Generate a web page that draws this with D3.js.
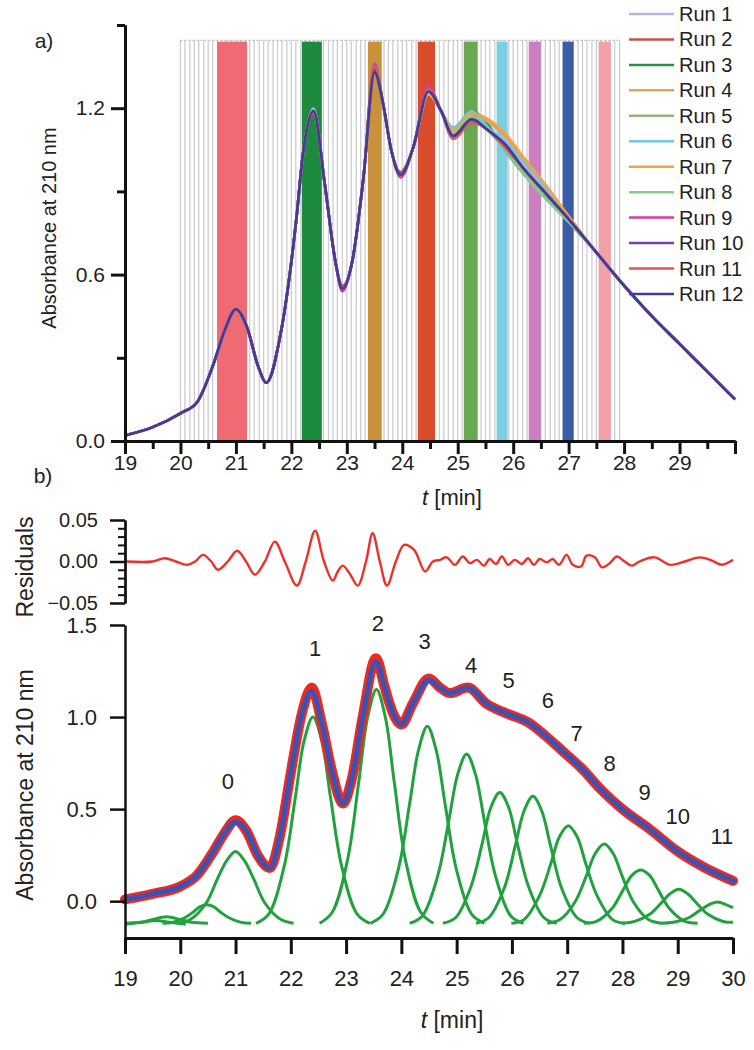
<!DOCTYPE html>
<html>
<head>
<meta charset="utf-8">
<script src="https://cdn.jsdelivr.net/npm/d3@7"></script>
<style>
body { margin: 0; background: #fff; }
svg { display: block; font-family: "Liberation Sans", Arial, Helvetica, sans-serif; }
</style>
</head>
<body>
<svg id="chart" width="754" height="1050"></svg>
<script>
// ---- panel a: 12 runs ----
var runNames = ["Run 1", "Run 2", "Run 3", "Run 4", "Run 5", "Run 6", "Run 7", "Run 8", "Run 9", "Run 10", "Run 11", "Run 12"];
var runColors = ["#b9b5e2", "#c2524e", "#2f8c40", "#d6aa5c", "#93b37d", "#6fc6e8", "#f5a243", "#84cf84", "#d23fa2", "#7141b2", "#e85252", "#3d3d9e"];
var runT = [19, 19.5, 20, 20.3, 20.6, 20.8, 21, 21.2, 21.4, 21.55, 21.8, 22.1, 22.2, 22.4, 22.6, 22.8, 22.92, 23.1, 23.3, 23.5, 23.65, 23.8, 23.97, 24.2, 24.47, 24.7, 24.92, 25.25, 25.55, 25.85, 26.2, 26.6, 27, 27.5, 28, 28.5, 29, 29.5, 30];
var run1  = [.02,.05,.10,.14,.28,.40,.475,.41,.27,.21,.38,.82,1.02,1.19,.93,.64,.55,.65,.95,1.35,1.22,1.05,.96,1.06,1.27,1.19,1.12,1.18,1.16,1.09,1.00,.90,.80,.68,.56,.45,.35,.25,.15];
var run2  = [.02,.05,.10,.14,.28,.40,.475,.41,.27,.21,.38,.82,1.02,1.18,.93,.64,.56,.65,.95,1.33,1.22,1.05,.97,1.06,1.26,1.19,1.10,1.16,1.12,1.07,.98,.89,.80,.68,.56,.45,.35,.25,.15];
var run3  = [.02,.05,.10,.14,.28,.40,.475,.41,.27,.21,.38,.82,1.02,1.20,.93,.64,.54,.65,.95,1.36,1.22,1.05,.96,1.06,1.25,1.19,1.12,1.19,1.14,1.05,.96,.88,.79,.68,.56,.45,.35,.25,.15];
var run4  = [.02,.05,.10,.14,.28,.40,.475,.41,.27,.21,.38,.82,1.02,1.19,.93,.64,.55,.65,.95,1.34,1.22,1.05,.96,1.06,1.26,1.19,1.13,1.18,1.15,1.10,1.01,.91,.81,.68,.56,.45,.35,.25,.15];
var run5  = [.02,.05,.10,.14,.28,.40,.475,.41,.27,.21,.38,.82,1.02,1.19,.93,.64,.55,.65,.95,1.35,1.22,1.05,.96,1.06,1.27,1.19,1.11,1.17,1.13,1.06,.97,.88,.80,.68,.56,.45,.35,.25,.15];
var run6  = [.02,.05,.10,.14,.28,.40,.475,.41,.27,.21,.38,.82,1.02,1.20,.93,.64,.55,.65,.95,1.36,1.22,1.05,.96,1.06,1.26,1.19,1.13,1.19,1.13,1.08,1.00,.91,.80,.68,.56,.45,.35,.25,.15];
var run7  = [.02,.05,.10,.14,.28,.40,.475,.41,.27,.21,.38,.82,1.02,1.19,.93,.64,.55,.65,.95,1.34,1.22,1.05,.96,1.06,1.25,1.19,1.12,1.18,1.16,1.11,1.02,.92,.81,.68,.56,.45,.35,.25,.15];
var run8  = [.02,.05,.10,.14,.28,.40,.475,.41,.27,.21,.38,.82,1.02,1.19,.93,.64,.55,.65,.95,1.35,1.22,1.05,.96,1.06,1.26,1.19,1.11,1.17,1.12,1.05,.96,.87,.79,.68,.56,.45,.35,.25,.15];
var run9  = [.02,.05,.10,.14,.28,.40,.475,.41,.27,.21,.38,.82,1.02,1.19,.93,.64,.54,.65,.95,1.36,1.22,1.05,.95,1.06,1.28,1.19,1.09,1.15,1.12,1.06,.98,.89,.80,.68,.56,.45,.35,.25,.15];
var run10 = [.02,.05,.10,.14,.28,.40,.475,.41,.27,.21,.38,.82,1.02,1.19,.93,.64,.55,.65,.95,1.34,1.22,1.05,.96,1.06,1.27,1.19,1.10,1.16,1.12,1.07,.98,.89,.80,.68,.56,.45,.35,.25,.15];
var run11 = [.02,.05,.10,.14,.28,.40,.475,.41,.27,.21,.38,.82,1.02,1.19,.93,.64,.55,.65,.95,1.35,1.22,1.05,.96,1.06,1.27,1.19,1.09,1.15,1.12,1.06,.98,.89,.80,.68,.56,.45,.35,.25,.15];
var run12 = [.02,.05,.10,.14,.28,.40,.475,.41,.27,.21,.38,.82,1.02,1.19,.93,.64,.55,.65,.95,1.33,1.22,1.05,.96,1.06,1.26,1.19,1.10,1.16,1.12,1.07,.98,.89,.80,.68,.56,.45,.35,.25,.15];
var runs = [run1, run2, run3, run4, run5, run6, run7, run8, run9, run10, run11, run12];

// fraction collector marks (grey lines)
var fracTimes = [
  20.00,20.08,20.17,20.25,20.33,20.42,20.50,20.58,20.67,20.75,20.83,20.92,
  21.00,21.08,21.17,21.25,21.33,21.42,21.50,21.58,21.67,21.75,21.83,21.92,
  22.00,22.08,22.17,22.25,22.33,22.42,22.50,22.58,22.67,22.75,22.83,22.92,
  23.00,23.08,23.17,23.25,23.33,23.42,23.50,23.58,23.67,23.75,23.83,23.92,
  24.00,24.08,24.17,24.25,24.33,24.42,24.50,24.58,24.67,24.75,24.83,24.92,
  25.00,25.08,25.17,25.25,25.33,25.42,25.50,25.58,25.67,25.75,25.83,25.92,
  26.00,26.08,26.17,26.25,26.33,26.42,26.50,26.58,26.67,26.75,26.83,26.92,
  27.00,27.08,27.17,27.25,27.33,27.42,27.50,27.58,27.67,27.75,27.83,27.92];
var fracTop = 1.445;
// selected fractions (coloured bars)
var barStart = [20.66, 22.19, 23.38, 24.28, 25.11, 25.70, 26.28, 26.89, 27.54];
var barEnd   = [21.20, 22.55, 23.63, 24.59, 25.36, 25.90, 26.50, 27.09, 27.76];
var barColors = ["#ef6a72", "#1e8a3e", "#c8913a", "#d94b2b", "#6aa84f", "#7ccfe0", "#c97fc0", "#3b5ba5", "#f3a1a8"];

// ---- panel b: residuals ----
var resT = [19.0,19.5,19.72,19.92,20.12,20.27,20.41,20.56,20.68,20.86,21.03,21.19,21.35,21.53,21.71,21.89,22.11,22.27,22.44,22.6,22.76,22.85,22.94,23.07,23.21,23.36,23.48,23.61,23.74,23.9,24.05,24.23,24.43,24.57,
  24.70,24.82,24.97,25.11,25.24,25.37,25.49,25.6,25.71,25.82,25.93,26.05,26.18,26.29,26.4,26.5,26.63,26.74,26.85,26.99,27.1,27.25,27.35,27.5,27.63,27.77,27.9,28.02,28.17,28.31,28.58,28.86,29.13,29.4,29.62,29.8,30.0];
var resV = [0,0,.004,0,-.004,0,.008,0,-.010,0,.013,0,-.016,0,.024,0,-.029,0,.037,0,-.023,-.012,-.005,-.015,-.029,0,.034,0,-.029,0,.020,.014,-.012,0,
  .002,.005,-.004,.006,-.002,.002,-.005,.003,-.003,.006,-.004,.002,-.003,.004,-.004,.003,-.001,.003,-.004,.008,-.004,-.006,.007,.005,-.007,-.002,.006,.001,-.005,0,.005,-.004,0,.005,.001,-.004,.002];

// ---- panel b: measured trace and fit ----
var fitT  = [19, 19.5, 20, 20.3, 20.6, 20.8, 21, 21.2, 21.4, 21.62, 21.8, 22.0, 22.2, 22.38, 22.55, 22.75, 22.94, 23.1, 23.3, 23.54, 23.7, 23.85, 24.0, 24.2, 24.5, 24.7, 24.88, 25.2, 25.55, 25.9, 26.3, 26.6, 26.9, 27.3, 27.6, 28.0, 28.5, 29.0, 29.5, 30];
var dataV = [.01,.04,.08,.14,.27,.37,.44,.38,.25,.18,.35,.70,1.02,1.16,.98,.70,.53,.66,1.00,1.32,1.16,1.02,.96,1.07,1.21,1.16,1.13,1.16,1.07,1.02,.97,.90,.82,.71,.61,.50,.39,.27,.18,.11];
var fitV  = [.01,.04,.08,.14,.27,.37,.43,.38,.25,.18,.35,.70,1.02,1.14,.98,.70,.53,.66,1.00,1.30,1.16,1.02,.96,1.07,1.20,1.16,1.13,1.16,1.07,1.02,.97,.90,.82,.71,.61,.50,.39,.27,.18,.11];

// fitted components, [t, absorbance] (drawn offset below the trace)
var compA = [[19.0,-.125],[19.3,-.115],[19.55,-.105],[19.8,-.115],[20.1,-.125]];
var compB = [[19.0,-.12],[19.3,-.115],[19.5,-.10],[19.75,-.085],[20.0,-.10],[20.2,-.115],[20.5,-.12]];
var compC = [[19.68,-.12],[19.86,-.115],[20.08,-.09],[20.23,-.06],[20.36,-.03],[20.48,-.02],[20.6,-.03],[20.73,-.06],[20.88,-.09],[21.1,-.115],[21.28,-.12]];
var comp0 = [[19.95,-.12],[20.18,-.10],[20.47,-.01],[20.67,.12],[20.84,.22],[21.0,.27],[21.16,.22],[21.33,.12],[21.53,-.01],[21.82,-.10],[22.05,-.12]];
var comp1 = [[21.37,-.12],[21.6,-.07],[21.88,.19],[22.08,.56],[22.24,.87],[22.4,1.0],[22.56,.87],[22.72,.56],[22.92,.19],[23.2,-.07],[23.43,-.12]];
var comp2 = [[22.52,-.12],[22.75,-.06],[23.03,.23],[23.23,.65],[23.39,1.0],[23.55,1.15],[23.71,1.0],[23.87,.65],[24.07,.23],[24.35,-.06],[24.58,-.12]];
var comp3 = [[23.44,-.12],[23.67,-.07],[23.95,.18],[24.15,.53],[24.31,.82],[24.47,.95],[24.63,.82],[24.79,.53],[24.99,.18],[25.27,-.07],[25.5,-.12]];
var comp4 = [[24.15,-.12],[24.38,-.08],[24.66,.14],[24.86,.44],[25.02,.69],[25.18,.80],[25.34,.69],[25.5,.44],[25.7,.14],[25.98,-.08],[26.21,-.12]];
var comp5 = [[24.75,-.12],[24.98,-.09],[25.26,.08],[25.46,.31],[25.62,.51],[25.78,.59],[25.94,.51],[26.1,.31],[26.3,.08],[26.58,-.09],[26.81,-.12]];
var comp6 = [[25.35,-.12],[25.58,-.09],[25.86,.07],[26.06,.30],[26.22,.49],[26.38,.57],[26.54,.49],[26.7,.30],[26.9,.07],[27.18,-.09],[27.41,-.12]];
var comp7 = [[25.99,-.12],[26.22,-.10],[26.5,.03],[26.7,.20],[26.86,.35],[27.02,.41],[27.18,.35],[27.34,.20],[27.54,.03],[27.82,-.10],[28.05,-.12]];
var comp8 = [[26.64,-.12],[26.87,-.10],[27.15,0],[27.35,.14],[27.51,.26],[27.67,.31],[27.83,.26],[27.99,.14],[28.19,0],[28.47,-.10],[28.7,-.12]];
var comp9 = [[27.3,-.12],[27.53,-.11],[27.81,-.04],[28.01,.06],[28.17,.14],[28.33,.17],[28.49,.14],[28.65,.06],[28.85,-.04],[29.13,-.11],[29.36,-.12]];
var comp10 = [[27.99,-.12],[28.22,-.11],[28.5,-.07],[28.7,-.01],[28.86,.04],[29.02,.065],[29.18,.04],[29.34,-.01],[29.54,-.07],[29.82,-.11],[30.0,-.115]];
var comp11 = [[28.69,-.12],[28.92,-.115],[29.2,-.09],[29.4,-.05],[29.56,-.02],[29.72,-.005],[29.88,-.02],[30.0,-.035]];
var components = [compA, compB, compC, comp0, comp1, comp2, comp3, comp4, comp5, comp6, comp7, comp8, comp9, comp10, comp11];

var peakNames = ["0", "1", "2", "3", "4", "5", "6", "7", "8", "9", "10", "11"];
var peakLabelT = [20.86, 22.44, 23.575, 24.42, 25.26, 25.94, 26.65, 27.17, 27.77, 28.40, 29.0, 29.8];
var peakLabelV = [0.65, 1.37, 1.51, 1.41, 1.28, 1.20, 1.09, 0.91, 0.75, 0.59, 0.46, 0.35];

// ticks
var xTicksA = [19, 20, 21, 22, 23, 24, 25, 26, 27, 28, 29, 30];
var xMinorA = [19.5, 20.5, 21.5, 22.5, 23.5, 24.5, 25.5, 26.5, 27.5, 28.5, 29.5];
var yTicksA = [0, 0.6, 1.2];
var yMinorA = [0.3, 0.9, 1.5];
var resTicks = [-0.05, 0, 0.05];
var resMinor = [-0.04, -0.03, -0.02, -0.01, 0.01, 0.02, 0.03, 0.04];
var yTicksB = [0, 0.5, 1.0, 1.5];
var xTicksB = [19, 20, 21, 22, 23, 24, 25, 26, 27, 28, 29, 30];

var svg = d3.select("#chart");

// scales
var xA = d3.scaleLinear().domain([19, 30]).range([125, 735]);
var yA = d3.scaleLinear().domain([0, 1.5]).range([441, 25]);
var xB = d3.scaleLinear().domain([19, 30]).range([125, 733]);
var yR = d3.scaleLinear().domain([-0.05, 0.05]).range([603, 520]);
var yB = d3.scaleLinear().domain([-0.2, 1.5]).range([938, 625]);

function styleAxis(g, w) {
  g.select(".domain").attr("stroke", "#111").attr("stroke-width", w);
  g.selectAll(".tick line").attr("stroke", "#111").attr("stroke-width", w);
  g.selectAll(".tick text").attr("fill", "#222");
}

// ===== panel a =====
var ga = svg.append("g");

ga.selectAll(".frac").data(fracTimes).enter().append("line")
  .attr("x1", function(d) { return xA(d); }).attr("x2", function(d) { return xA(d); })
  .attr("y1", yA(0)).attr("y2", yA(fracTop))
  .attr("stroke", "#cdced3").attr("stroke-width", 1.3);
ga.append("line")
  .attr("x1", xA(fracTimes[0])).attr("x2", xA(fracTimes[fracTimes.length - 1]))
  .attr("y1", yA(fracTop)).attr("y2", yA(fracTop))
  .attr("stroke", "#a8a8ae").attr("stroke-width", 1.2).attr("stroke-dasharray", "2,2");

ga.selectAll(".bar").data(barStart).enter().append("rect")
  .attr("x", function(d) { return xA(d); })
  .attr("width", function(d, i) { return xA(barEnd[i]) - xA(d); })
  .attr("y", yA(1.44))
  .attr("height", yA(0) - yA(1.44))
  .attr("fill", function(d, i) { return barColors[i]; });

var lineA = d3.line()
  .x(function(d, i) { return xA(runT[i]); })
  .y(function(d) { return yA(d); })
  .curve(d3.curveMonotoneX);

ga.selectAll(".run").data(runs).enter().append("path")
  .attr("d", lineA)
  .attr("fill", "none")
  .attr("stroke", function(d, i) { return runColors[i]; })
  .attr("stroke-width", 2.6);

// axes a
var axA = ga.append("g").attr("transform", "translate(0,441)")
  .call(d3.axisBottom(xA).tickValues(xTicksA).tickSize(13).tickSizeOuter(0)
    .tickFormat(function(d) { return d < 30 ? d : ""; }));
styleAxis(axA, 3);
axA.selectAll(".tick text").attr("y", 22).attr("dy", "0.35em").attr("font-size", 21);
var axAm = ga.append("g").attr("transform", "translate(0,441)")
  .call(d3.axisBottom(xA).tickValues(xMinorA).tickSize(8).tickSizeOuter(0).tickFormat(""));
styleAxis(axAm, 3);

var ayA = ga.append("g").attr("transform", "translate(125,0)")
  .call(d3.axisLeft(yA).tickValues(yTicksA).tickSize(14).tickPadding(6).tickSizeOuter(0)
    .tickFormat(d3.format(".1f")));
styleAxis(ayA, 3);
ayA.selectAll(".tick text").attr("font-size", 21);
var ayAm = ga.append("g").attr("transform", "translate(125,0)")
  .call(d3.axisLeft(yA).tickValues(yMinorA).tickSize(8).tickSizeOuter(0).tickFormat(""));
styleAxis(ayAm, 3);

ga.append("text")
  .attr("transform", "translate(49,228) rotate(-90)")
  .attr("text-anchor", "middle").attr("dominant-baseline", "central")
  .attr("font-size", 20).attr("fill", "#222")
  .text("Absorbance at 210 nm");

var tA = ga.append("text").attr("x", 452).attr("y", 497)
  .attr("text-anchor", "middle").attr("dominant-baseline", "central")
  .attr("font-size", 22).attr("fill", "#222");
tA.append("tspan").attr("font-style", "italic").text("t");
tA.append("tspan").text(" [min]");

ga.append("text").attr("x", 44).attr("y", 40)
  .attr("text-anchor", "middle").attr("dominant-baseline", "central")
  .attr("font-size", 21).attr("fill", "#222").text("a)");

// legend
var leg = ga.selectAll(".leg").data(runNames).enter().append("g")
  .attr("transform", function(d, i) { return "translate(0," + (14 + i * 25.45) + ")"; });
leg.append("line").attr("x1", 629).attr("x2", 674)
  .attr("stroke", function(d, i) { return runColors[i]; }).attr("stroke-width", 2.5);
leg.append("text").attr("x", 679).attr("dominant-baseline", "central")
  .attr("font-size", 20).attr("fill", "#222")
  .text(function(d) { return d; });

// ===== panel b =====
var gb = svg.append("g");

gb.append("text").attr("x", 43).attr("y", 475)
  .attr("text-anchor", "middle").attr("dominant-baseline", "central")
  .attr("font-size", 21).attr("fill", "#222").text("b)");

// residuals
var lineR = d3.line()
  .x(function(d, i) { return xB(resT[i]); })
  .y(function(d) { return yR(d); })
  .curve(d3.curveCatmullRom);
gb.append("path").datum(resV).attr("d", lineR)
  .attr("fill", "none").attr("stroke", "#ee3028").attr("stroke-width", 2.4);

var ayR = gb.append("g").attr("transform", "translate(125,0)")
  .call(d3.axisLeft(yR).tickValues(resTicks).tickSize(15).tickPadding(12).tickSizeOuter(0)
    .tickFormat(function(d) { return d3.format(".2f")(d).replace("-", "\u2013"); }));
styleAxis(ayR, 2.5);
ayR.selectAll(".tick text").attr("font-size", 20);
var ayRm = gb.append("g").attr("transform", "translate(125,0)")
  .call(d3.axisLeft(yR).tickValues(resMinor).tickSize(7).tickSizeOuter(0).tickFormat(""));
styleAxis(ayRm, 2);

gb.append("text")
  .attr("transform", "translate(25,567) rotate(-90)")
  .attr("text-anchor", "middle").attr("dominant-baseline", "central")
  .attr("font-size", 23).attr("fill", "#222").text("Residuals");

// components
var lineC = d3.line()
  .x(function(d) { return xB(d[0]); })
  .y(function(d) { return yB(d[1]); })
  .curve(d3.curveCatmullRom);
gb.selectAll(".comp").data(components).enter().append("path")
  .attr("d", lineC)
  .attr("fill", "none").attr("stroke", "#22a23f").attr("stroke-width", 3);

// measured trace (red) and fit (blue)
var lineB = d3.line()
  .x(function(d, i) { return xB(fitT[i]); })
  .y(function(d) { return yB(d); })
  .curve(d3.curveMonotoneX);
gb.append("path").datum(dataV).attr("d", lineB)
  .attr("fill", "none").attr("stroke", "#ec2a22").attr("stroke-width", 10)
  .attr("stroke-linecap", "round");
gb.append("path").datum(fitV).attr("d", lineB)
  .attr("fill", "none").attr("stroke", "#3a52b4").attr("stroke-width", 5)
  .attr("stroke-linecap", "round");

gb.selectAll(".plab").data(peakNames).enter().append("text")
  .attr("x", function(d, i) { return xB(peakLabelT[i]); })
  .attr("y", function(d, i) { return yB(peakLabelV[i]); })
  .attr("text-anchor", "middle").attr("dominant-baseline", "central")
  .attr("font-size", 22).attr("fill", "#222")
  .text(function(d) { return d; });

var ayB = gb.append("g").attr("transform", "translate(125,0)")
  .call(d3.axisLeft(yB).tickValues(yTicksB).tickSize(15).tickPadding(13).tickSizeOuter(0)
    .tickFormat(d3.format(".1f")));
styleAxis(ayB, 2.5);
ayB.selectAll(".tick text").attr("font-size", 22);

var axB = gb.append("g").attr("transform", "translate(0,938)")
  .call(d3.axisBottom(xB).tickValues(xTicksB).tickSize(16).tickSizeOuter(0));
styleAxis(axB, 3);
axB.selectAll(".tick text").attr("y", 40).attr("dy", "0.35em").attr("font-size", 22);

gb.append("text")
  .attr("transform", "translate(25,785) rotate(-90)")
  .attr("text-anchor", "middle").attr("dominant-baseline", "central")
  .attr("font-size", 23).attr("fill", "#222").text("Absorbance at 210 nm");

var tB = gb.append("text").attr("x", 452).attr("y", 1020)
  .attr("text-anchor", "middle").attr("dominant-baseline", "central")
  .attr("font-size", 23).attr("fill", "#222");
tB.append("tspan").attr("font-style", "italic").text("t");
tB.append("tspan").text(" [min]");
</script>
</body>
</html>
